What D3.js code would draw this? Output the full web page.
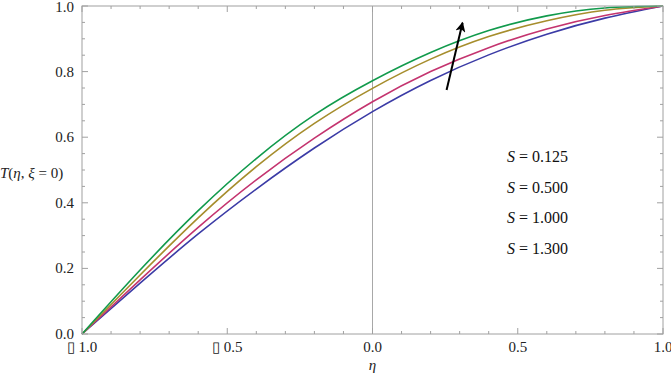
<!DOCTYPE html>
<html><head><meta charset="utf-8">
<script src="https://cdn.jsdelivr.net/npm/d3@7"></script>
<style>body{margin:0;background:#fff}svg{display:block}</style>
</head><body>
<script>
const eta = [-1, -0.8, -0.6, -0.4, -0.2, 0, 0.2, 0.4, 0.6, 0.8, 1];
const sValues = ["0.125", "0.500", "1.000", "1.300"];
const T_s0125 = [0, 0.155, 0.305, 0.442, 0.567, 0.678, 0.773, 0.851, 0.914, 0.963, 1.0];
const T_s0500 = [0, 0.165, 0.325, 0.47, 0.597, 0.708, 0.80, 0.873, 0.93, 0.971, 1.0];
const T_s1000 = [0, 0.18, 0.354, 0.51, 0.642, 0.749, 0.838, 0.907, 0.955, 0.987, 1.0];
const T_s1300 = [0, 0.195, 0.376, 0.535, 0.668, 0.772, 0.858, 0.925, 0.97, 0.994, 1.0];
const colors = ["#3b3ba6", "#c4346f", "#a68d2c", "#119a4c"];
const xTickVals = [-1, -0.5, 0, 0.5, 1];
const xTickLabels = ["\u25AF 1.0", "\u25AF 0.5", "0.0", "0.5", "1.0"];
const yTickVals = [0, 0.2, 0.4, 0.6, 0.8, 1.0];
const yTickLabels = ["0.0", "0.2", "0.4", "0.6", "0.8", "1.0"];
const arrowFrom = [0.255, 0.744];
const arrowTo = [0.31, 0.949];

const W = 671, H = 373;
const m = {l: 82, r: 8, t: 6, b: 39};
const svg = d3.select("body").append("svg").attr("width", W).attr("height", H);
const x = d3.scaleLinear().domain([-1, 1]).range([m.l, W - m.r]);
const y = d3.scaleLinear().domain([0, 1]).range([H - m.b, m.t]);
const frameCol = "#a0a0a0";
const font = "'Liberation Serif', 'Times New Roman', serif";

// zero line
svg.append("line").attr("x1", x(0)).attr("x2", x(0)).attr("y1", y(0)).attr("y2", y(1))
  .attr("stroke", "#a8a8a8").attr("stroke-width", 1);

// curves
const series = [T_s0125, T_s0500, T_s1000, T_s1300];
const line = d3.line().x(d => x(d[0])).y(d => y(d[1])).curve(d3.curveNatural);
series.forEach((s, i) => {
  svg.append("path").attr("d", line(eta.map((e, j) => [e, s[j]])))
    .attr("fill", "none").attr("stroke", colors[i]).attr("stroke-width", 1.6);
});

// frame
svg.append("rect").attr("x", x(-1)).attr("y", y(1)).attr("width", x(1) - x(-1)).attr("height", y(0) - y(1))
  .attr("fill", "none").attr("stroke", frameCol).attr("stroke-width", 1);

// ticks (inward) on all sides
const xMinor = d3.range(-1, 1.0001, 0.1).map(v => +v.toFixed(2));
const yMinor = d3.range(0, 1.0001, 0.05).map(v => +v.toFixed(2));
const tg = svg.append("g").attr("stroke", frameCol).attr("stroke-width", 1);
xMinor.forEach(v => {
  const major = xTickVals.some(t => Math.abs(t - v) < 1e-6);
  const len = major ? 6 : 3;
  tg.append("line").attr("x1", x(v)).attr("x2", x(v)).attr("y1", y(0)).attr("y2", y(0) - len);
  tg.append("line").attr("x1", x(v)).attr("x2", x(v)).attr("y1", y(1)).attr("y2", y(1) + len);
});
yMinor.forEach(v => {
  const major = yTickVals.some(t => Math.abs(t - v) < 1e-6);
  const len = major ? 6 : 3;
  tg.append("line").attr("y1", y(v)).attr("y2", y(v)).attr("x1", x(-1)).attr("x2", x(-1) + len);
  tg.append("line").attr("y1", y(v)).attr("y2", y(v)).attr("x1", x(1)).attr("x2", x(1) - len);
});

// tick labels
xTickVals.forEach((v, i) => {
  svg.append("text").attr("x", x(v)).attr("y", y(0) + 18).attr("text-anchor", "middle")
    .attr("font-family", font).attr("font-size", 15).attr("fill", "#222").text(xTickLabels[i]);
});
yTickVals.forEach((v, i) => {
  svg.append("text").attr("x", x(-1) - 8).attr("y", Math.max(y(v) + 5, 12)).attr("text-anchor", "end")
    .attr("font-family", font).attr("font-size", 15).attr("fill", "#222").text(yTickLabels[i]);
});

// axis titles
svg.append("text").attr("x", x(0)).attr("y", 370).attr("text-anchor", "middle")
  .attr("font-family", font).attr("font-size", 15).attr("font-style", "italic").attr("fill", "#222").text("η");
const yt = svg.append("text").attr("x", 0).attr("y", 178).attr("font-family", font).attr("font-size", 15).attr("fill", "#222");
yt.append("tspan").attr("font-style", "italic").text("T");
yt.append("tspan").text("(");
yt.append("tspan").attr("font-style", "italic").text("η");
yt.append("tspan").text(", ");
yt.append("tspan").attr("font-style", "italic").text("ξ");
yt.append("tspan").text(" = 0)");

// legend text
sValues.forEach((v, i) => {
  const t = svg.append("text").attr("x", 507).attr("y", 162 + i * 30.5)
    .attr("font-family", font).attr("font-size", 16).attr("fill", "#111");
  t.append("tspan").attr("font-style", "italic").text("S");
  t.append("tspan").text(" = " + v);
});

// arrow
const defs = svg.append("defs");
defs.append("marker").attr("id", "ah").attr("viewBox", "0 0 10 10").attr("refX", 9).attr("refY", 5)
  .attr("markerWidth", 6).attr("markerHeight", 5).attr("orient", "auto")
  .append("path").attr("d", "M0,0 L10,5 L0,10 L2.5,5 z").attr("fill", "#000");
svg.append("line").attr("x1", x(arrowFrom[0])).attr("y1", y(arrowFrom[1]))
  .attr("x2", x(arrowTo[0])).attr("y2", y(arrowTo[1]))
  .attr("stroke", "#000").attr("stroke-width", 2).attr("marker-end", "url(#ah)");
</script>
</body></html>
